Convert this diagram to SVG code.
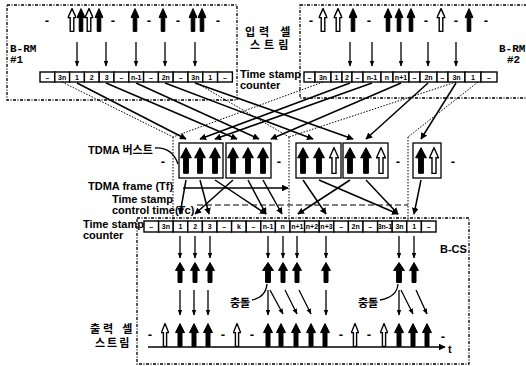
<svg xmlns="http://www.w3.org/2000/svg" xmlns:xlink="http://www.w3.org/1999/xlink" width="526" height="366" viewBox="0 0 526 366">
<style>
.f{fill:#000;stroke:#000;stroke-width:1}
.h{fill:#fff;stroke:#000;stroke-width:1.4}
.box{fill:none;stroke:#000;stroke-width:1.3;stroke-dasharray:3 1.5 1 1.5}
.dot{fill:none;stroke:#000;stroke-width:1;stroke-dasharray:1.5 1.5}
.ln{fill:none;stroke:#000;stroke-width:1.5;marker-end:url(#ah)}
.sd{fill:none;stroke:#000;stroke-width:1.3;marker-end:url(#sh)}
.cell{fill:#fff;stroke:#000;stroke-width:1.4}
.ct{font-family:"Liberation Sans",Arial,sans-serif;font-weight:bold;font-size:7px;text-anchor:middle}
.lb{font-family:"Liberation Sans",Arial,sans-serif;font-weight:bold;font-size:11px}
.ko{font-family:"Liberation Sans","Noto Sans CJK KR",sans-serif;font-weight:bold;font-size:11px}
.mono{font-family:"Liberation Mono","DejaVu Sans Mono",monospace;font-weight:bold;font-size:11px}
.ds{font-family:"Liberation Sans",Arial,sans-serif;font-weight:bold;font-size:13px;text-anchor:middle}
.bx{fill:#fff;stroke:#000;stroke-width:1.3}
</style>
<defs>
<symbol id="ua" viewBox="0 0 10 20" preserveAspectRatio="none">
<path d="M5,0.5 L9.5,8 L7,8 L7,19.5 L3,19.5 L3,8 L0.5,8 Z" vector-effect="non-scaling-stroke"/>
</symbol>
<marker id="ah" viewBox="0 0 10 10" refX="9" refY="5" markerWidth="4.5" markerHeight="4.5" orient="auto"><path d="M0,0 L10,5 L0,10 z" fill="#000"/></marker>
<marker id="sh" viewBox="0 0 10 10" refX="9" refY="5" markerWidth="4.5" markerHeight="4.5" orient="auto"><path d="M0,1 L10,5 L0,9 z" fill="#000"/></marker>
</defs>
<rect width="526" height="366" fill="#fff"/>

<!-- B-RM #1 -->
<g id="brm1">
<rect class="box" x="7" y="5" width="230" height="95"/>
<text class="mono" x="10" y="52">B-RM</text>
<text class="mono" x="10" y="63">#1</text>
<text class="ds" x="47" y="25">-</text>
<use href="#ua" class="h" x="67.5" y="8" width="9" height="24"/>
<use href="#ua" class="f" x="76.5" y="8" width="9" height="24"/>
<use href="#ua" class="h" x="84.5" y="8" width="9" height="24"/>
<use href="#ua" class="f" x="94.5" y="8" width="9" height="24"/>
<text class="ds" x="113" y="25">-</text>
<use href="#ua" class="f" x="130.5" y="8" width="9" height="24"/>
<text class="ds" x="149" y="25">-</text>
<use href="#ua" class="f" x="158.5" y="8" width="9" height="24"/>
<text class="ds" x="178" y="25">-</text>
<use href="#ua" class="f" x="188.5" y="8" width="9" height="24"/>
<use href="#ua" class="f" x="197.5" y="8" width="9" height="24"/>
<text class="ds" x="218" y="25">-</text>
<g>
<rect class="cell" x="40" y="72" width="14.8" height="10"/><text class="ct" x="47.4" y="79.5">–</text>
<rect class="cell" x="54.8" y="72" width="14.8" height="10"/><text class="ct" x="62.2" y="79.5">3n</text>
<rect class="cell" x="69.6" y="72" width="14.8" height="10"/><text class="ct" x="77" y="79.5">1</text>
<rect class="cell" x="84.4" y="72" width="14.8" height="10"/><text class="ct" x="91.8" y="79.5">2</text>
<rect class="cell" x="99.2" y="72" width="14.8" height="10"/><text class="ct" x="106.6" y="79.5">3</text>
<rect class="cell" x="114" y="72" width="14.8" height="10"/><text class="ct" x="121.4" y="79.5">–</text>
<rect class="cell" x="128.8" y="72" width="14.8" height="10"/><text class="ct" x="136.2" y="79.5">n-1</text>
<rect class="cell" x="143.6" y="72" width="14.8" height="10"/><text class="ct" x="151" y="79.5">–</text>
<rect class="cell" x="158.4" y="72" width="14.8" height="10"/><text class="ct" x="165.8" y="79.5">2n</text>
<rect class="cell" x="173.2" y="72" width="14.8" height="10"/><text class="ct" x="180.6" y="79.5">–</text>
<rect class="cell" x="188" y="72" width="14.8" height="10"/><text class="ct" x="195.4" y="79.5">3n</text>
<rect class="cell" x="202.8" y="72" width="14.8" height="10"/><text class="ct" x="210.2" y="79.5">1</text>
<rect class="cell" x="217.6" y="72" width="14.8" height="10"/><text class="ct" x="225" y="79.5">–</text>
</g>
</g>

<!-- input cell stream label -->
<g id="input-label">
<text class="ko" x="245" y="36" font-size="12" letter-spacing="4">입력 셀</text>
<text class="ko" x="250" y="49" font-size="12" letter-spacing="4">스트림</text>
<text class="lb" x="240" y="78">Time stamp</text>
<text class="lb" x="240" y="89">counter</text>
</g>

<!-- B-RM #2 -->
<g id="brm2">
<rect class="box" x="300" y="5" width="240" height="93"/>
<text class="mono" x="499" y="52">B-RM</text>
<text class="mono" x="507" y="63">#2</text>
<text class="ds" x="311" y="25">-</text>
<use href="#ua" class="h" x="318.5" y="8" width="9" height="24"/>
<use href="#ua" class="h" x="333.5" y="8" width="9" height="24"/>
<use href="#ua" class="f" x="348.5" y="8" width="9" height="24"/>
<text class="ds" x="369" y="25">-</text>
<use href="#ua" class="f" x="383.5" y="8" width="9" height="24"/>
<use href="#ua" class="f" x="394.5" y="8" width="9" height="24"/>
<use href="#ua" class="f" x="406.5" y="8" width="9" height="24"/>
<text class="ds" x="426" y="25">-</text>
<use href="#ua" class="h" x="436.5" y="8" width="9" height="24"/>
<text class="ds" x="456" y="25">-</text>
<use href="#ua" class="f" x="464.5" y="8" width="9" height="24"/>
<text class="ds" x="486" y="25">-</text>
<g>
<rect class="cell" x="304" y="72" width="11" height="10"/><text class="ct" x="309.5" y="79.5">–</text>
<rect class="cell" x="315" y="72" width="16" height="10"/><text class="ct" x="323" y="79.5">3n</text>
<rect class="cell" x="331" y="72" width="11" height="10"/><text class="ct" x="336.5" y="79.5">1</text>
<rect class="cell" x="342" y="72" width="10" height="10"/><text class="ct" x="347" y="79.5">2</text>
<rect class="cell" x="352" y="72" width="11" height="10"/><text class="ct" x="357.5" y="79.5">–</text>
<rect class="cell" x="363" y="72" width="18" height="10"/><text class="ct" x="372" y="79.5">n-1</text>
<rect class="cell" x="381" y="72" width="12" height="10"/><text class="ct" x="387" y="79.5">n</text>
<rect class="cell" x="393" y="72" width="16" height="10"/><text class="ct" x="401" y="79.5">n+1</text>
<rect class="cell" x="409" y="72" width="11" height="10"/><text class="ct" x="414.5" y="79.5">–</text>
<rect class="cell" x="420" y="72" width="17" height="10"/><text class="ct" x="428.5" y="79.5">2n</text>
<rect class="cell" x="437" y="72" width="11" height="10"/><text class="ct" x="442.5" y="79.5">–</text>
<rect class="cell" x="448" y="72" width="17" height="10"/><text class="ct" x="456.5" y="79.5">3n</text>
<rect class="cell" x="465" y="72" width="16" height="10"/><text class="ct" x="473" y="79.5">1</text>
<rect class="cell" x="481" y="72" width="16" height="10"/><text class="ct" x="489" y="79.5">–</text>
</g>
</g>

<!-- TDMA bursts -->
<g id="burst1">
<rect class="bx" x="179" y="143" width="44" height="35"/>
<use href="#ua" class="f" x="180" y="147" width="12" height="27"/>
<use href="#ua" class="f" x="194" y="147" width="12" height="27"/>
<use href="#ua" class="f" x="209" y="147" width="12" height="27"/>
</g>
<g id="burst2">
<rect class="bx" x="226" y="143" width="45" height="35"/>
<use href="#ua" class="f" x="227" y="147" width="12" height="27"/>
<use href="#ua" class="f" x="242" y="147" width="12" height="27"/>
<use href="#ua" class="f" x="257" y="147" width="12" height="27"/>
</g>
<g id="burst3">
<rect class="bx" x="296" y="143" width="45" height="35"/>
<use href="#ua" class="f" x="297" y="147" width="12" height="27"/>
<use href="#ua" class="f" x="313" y="147" width="12" height="27"/>
<use href="#ua" class="h" x="329" y="147" width="10" height="27"/>
</g>
<g id="burst4">
<rect class="bx" x="343" y="143" width="45" height="35"/>
<use href="#ua" class="f" x="344" y="147" width="12" height="27"/>
<use href="#ua" class="f" x="360" y="147" width="12" height="27"/>
<use href="#ua" class="h" x="376" y="147" width="10" height="27"/>
</g>
<g id="burst5">
<rect class="bx" x="413" y="143" width="28" height="35"/>
<use href="#ua" class="f" x="415" y="147" width="12" height="27"/>
<use href="#ua" class="h" x="429" y="147" width="10" height="27"/>
</g>
<g id="burst-gaps">
<text class="ds" x="163" y="166">-</text>
<text class="ds" x="279" y="166">-</text>
<text class="ds" x="398" y="166">-</text>
<text class="ds" x="453" y="166">-</text>
</g>

<!-- left labels -->
<g id="labels">
<text class="ko" x="88" y="154">TDMA 버스트</text>
<text class="lb" x="88" y="190" font-size="10.5">TDMA frame (Tf)</text>
<text class="lb" x="112" y="203" font-size="10.5">Time stamp</text>
<text class="lb" x="112" y="214" font-size="10.5">control time(Tc)</text>
<text class="lb" x="83" y="228" font-size="10.5">Time stamp</text>
<text class="lb" x="83" y="239" font-size="10.5">counter</text>
<text class="lb" x="440" y="253" font-size="12">B-CS</text>
<text class="ko" x="230" y="307">충돌</text>
<text class="ko" x="358" y="307">충돌</text>
<text class="ko" x="90" y="333" font-size="12" letter-spacing="3">출력 셀</text>
<text class="ko" x="95" y="347" font-size="12" letter-spacing="2">스트림</text>
<text class="lb" x="448" y="353" font-size="10">t</text>
</g>

<!-- B-CS -->
<g id="bcs">
<rect class="box" x="137" y="218" width="332" height="146"/>
<g>
<rect class="cell" x="144" y="221" width="14.6" height="11"/><text class="ct" x="151.3" y="229">–</text>
<rect class="cell" x="158.6" y="221" width="14.6" height="11"/><text class="ct" x="165.9" y="229">3n</text>
<rect class="cell" x="173.2" y="221" width="14.6" height="11"/><text class="ct" x="180.5" y="229">1</text>
<rect class="cell" x="187.8" y="221" width="14.6" height="11"/><text class="ct" x="195.1" y="229">2</text>
<rect class="cell" x="202.4" y="221" width="14.6" height="11"/><text class="ct" x="209.7" y="229">3</text>
<rect class="cell" x="217" y="221" width="14.6" height="11"/><text class="ct" x="224.3" y="229">–</text>
<rect class="cell" x="231.6" y="221" width="14.6" height="11"/><text class="ct" x="238.9" y="229">k</text>
<rect class="cell" x="246.2" y="221" width="14.6" height="11"/><text class="ct" x="253.5" y="229">–</text>
<rect class="cell" x="260.8" y="221" width="14.6" height="11"/><text class="ct" x="268.1" y="229">n-1</text>
<rect class="cell" x="275.4" y="221" width="14.6" height="11"/><text class="ct" x="282.7" y="229">n</text>
<rect class="cell" x="290" y="221" width="14.6" height="11"/><text class="ct" x="297.3" y="229">n+1</text>
<rect class="cell" x="304.6" y="221" width="14.6" height="11"/><text class="ct" x="311.9" y="229">n+2</text>
<rect class="cell" x="319.2" y="221" width="14.6" height="11"/><text class="ct" x="326.5" y="229">n+3</text>
<rect class="cell" x="333.8" y="221" width="14.6" height="11"/><text class="ct" x="341.1" y="229">–</text>
<rect class="cell" x="348.4" y="221" width="14.6" height="11"/><text class="ct" x="355.7" y="229">2n</text>
<rect class="cell" x="363" y="221" width="14.6" height="11"/><text class="ct" x="370.3" y="229">–</text>
<rect class="cell" x="377.6" y="221" width="14.6" height="11"/><text class="ct" x="384.9" y="229">3n-1</text>
<rect class="cell" x="392.2" y="221" width="14.6" height="11"/><text class="ct" x="399.5" y="229">3n</text>
<rect class="cell" x="406.8" y="221" width="14.6" height="11"/><text class="ct" x="414.1" y="229">1</text>
<rect class="cell" x="421.4" y="221" width="14.6" height="11"/><text class="ct" x="428.7" y="229">–</text>
</g>
<!-- reassembled cells -->
<use href="#ua" class="f" x="175" y="262" width="10" height="21"/>
<use href="#ua" class="f" x="190" y="262" width="10" height="21"/>
<use href="#ua" class="f" x="205" y="262" width="10" height="21"/>
<use href="#ua" class="f" x="262" y="262" width="12" height="21"/>
<use href="#ua" class="f" x="278" y="262" width="10" height="21"/>
<use href="#ua" class="f" x="292" y="262" width="10" height="21"/>
<use href="#ua" class="f" x="321" y="262" width="10" height="21"/>
<use href="#ua" class="f" x="393" y="262" width="12" height="21"/>
<use href="#ua" class="f" x="409" y="262" width="10" height="21"/>
<!-- output stream -->
<text class="ds" x="150" y="339">-</text>
<use href="#ua" class="h" x="161" y="323" width="8" height="24"/>
<use href="#ua" class="f" x="175" y="323" width="10" height="24"/>
<use href="#ua" class="f" x="189" y="323" width="10" height="24"/>
<use href="#ua" class="f" x="203" y="323" width="10" height="24"/>
<text class="ds" x="223" y="339">-</text>
<use href="#ua" class="h" x="233" y="323" width="8" height="24"/>
<text class="ds" x="252" y="339">-</text>
<use href="#ua" class="f" x="263" y="323" width="10" height="24"/>
<use href="#ua" class="f" x="276" y="323" width="10" height="24"/>
<use href="#ua" class="f" x="291" y="323" width="10" height="24"/>
<use href="#ua" class="f" x="306" y="323" width="10" height="24"/>
<use href="#ua" class="f" x="320" y="323" width="10" height="24"/>
<text class="ds" x="341" y="339">-</text>
<use href="#ua" class="h" x="351" y="323" width="8" height="24"/>
<text class="ds" x="369" y="339">-</text>
<use href="#ua" class="h" x="380" y="323" width="8" height="24"/>
<use href="#ua" class="f" x="394" y="323" width="10" height="24"/>
<use href="#ua" class="f" x="408" y="323" width="10" height="24"/>
<use href="#ua" class="f" x="422" y="323" width="10" height="24"/>
<text class="ds" x="443" y="341">-</text>
</g>

<!-- connectors -->
<g id="connectors">
<!-- frame boundaries -->
<path class="dot" d="M62,82 L173,137 M323,82 L173,137 M195,82 L289,137 M456,82 L289,137 M478,82 L408,137"/>
<path class="dot" d="M173,137 V221 M289,137 V221 M408,137 V221"/>
<!-- B-RM down arrows -->
<path class="sd" d="M77,42 V66"/>
<path class="sd" d="M106,42 V66"/>
<path class="sd" d="M136,42 V66"/>
<path class="sd" d="M165,42 V66"/>
<path class="sd" d="M195,42 V66"/>
<path class="sd" d="M350,42 V66"/>
<path class="sd" d="M372,42 V66"/>
<path class="sd" d="M401,42 V66"/>
<path class="sd" d="M428,42 V66"/>
<path class="sd" d="M456,42 V66"/>
<!-- counters to bursts -->
<path class="ln" d="M77,83 L186,139"/>
<path class="ln" d="M106,83 L237,139"/>
<path class="ln" d="M136,83 L259,139"/>
<path class="ln" d="M165,83 L313,139"/>
<path class="ln" d="M195,83 L353,139"/>
<path class="ln" d="M350,83 L200,139"/>
<path class="ln" d="M372,83 L215,139"/>
<path class="ln" d="M401,83 L271,139"/>
<path class="ln" d="M428,83 L366,139"/>
<path class="ln" d="M456,83 L421,139"/>
<!-- frame and control time -->
<path class="ln" d="M183,188 H288"/>
<path fill="none" stroke="#000" stroke-width="1" stroke-dasharray="6 3" d="M197,205 H408"/>
<!-- bursts to B-CS counter -->
<path class="ln" d="M186,180 L180,214"/>
<path class="ln" d="M200,180 L209,214"/>
<path class="ln" d="M215,180 L266,214"/>
<path class="ln" d="M233,180 L195,214"/>
<path class="ln" d="M248,180 L266,214"/>
<path class="ln" d="M263,180 L282,214"/>
<path class="ln" d="M303,180 L326,214"/>
<path class="ln" d="M319,180 L398,214"/>
<path class="ln" d="M350,180 L298,214"/>
<path class="ln" d="M366,180 L398,214"/>
<path class="ln" d="M421,180 L414,214"/>
<!-- counter to reassembled cells -->
<path class="sd" d="M180,236 V258"/>
<path class="sd" d="M195,236 V258"/>
<path class="sd" d="M210,236 V258"/>
<path class="sd" d="M268,236 V258"/>
<path class="sd" d="M283,236 V258"/>
<path class="sd" d="M297,236 V258"/>
<path class="sd" d="M326,236 V258"/>
<path class="sd" d="M399,236 V258"/>
<path class="sd" d="M414,236 V258"/>
<!-- to output stream -->
<path class="sd" d="M180,290 V315"/>
<path class="sd" d="M194,290 V315"/>
<path class="sd" d="M208,290 V315"/>
<path class="sd" d="M268,290 V315"/>
<path class="sd" d="M326,290 V315"/>
<path class="sd" d="M399,290 V315"/>
<path class="sd" d="M270,290 L283,314"/>
<path class="sd" d="M285,290 L297,314"/>
<path class="sd" d="M299,290 L311,314"/>
<path class="sd" d="M401,290 L413,314"/>
<path class="sd" d="M416,290 L427,314"/>
<!-- collision pointers -->
<path fill="none" stroke="#000" stroke-width="1.3" d="M252,300 Q266,297 267,284"/>
<path fill="none" stroke="#000" stroke-width="1.3" d="M380,300 Q397,297 398,284"/>
<path fill="none" stroke="#000" stroke-width="1.3" d="M155,148 Q172,147 178,164"/>
<!-- time axis -->
<path class="ln" d="M148,347 H445"/>
</g>
</svg>
